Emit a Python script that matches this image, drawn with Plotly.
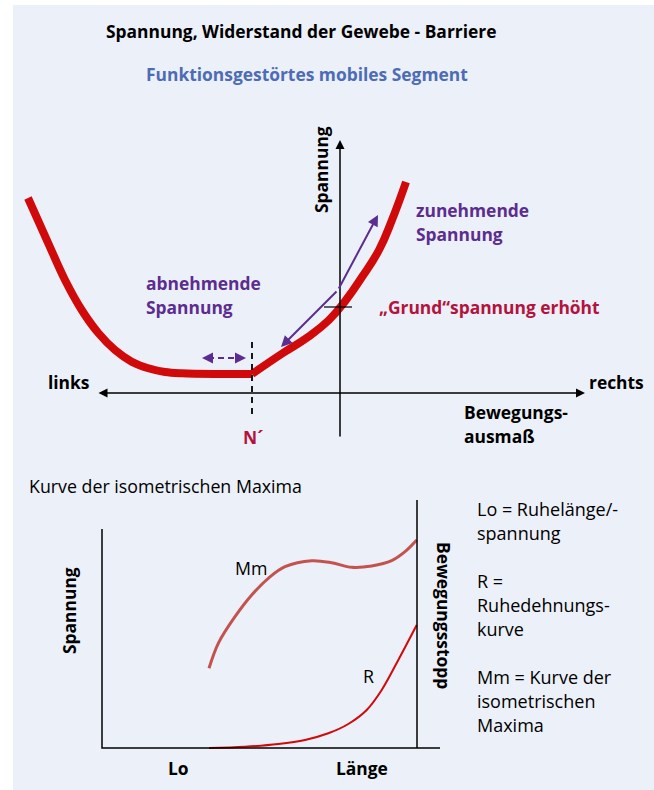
import plotly.graph_objects as go

W, H = 654, 790
BG = '#ECF0F8'
FONT = 'Open Sans'
RED = '#D00A0A'
PURPLE = '#5C2D91'
CRIMSON = '#B3133D'
BLUE = '#4D6CB5'
MMRED = '#C4534F'

# ---------- Top diagram data (units: Bewegungsausmaß, Spannung) ----------
top_left_x = [-31.2, -29.17, -27.5, -25.83, -24.17, -22.5, -20.83, -19.17, -17.5, -15.83, -12.5, -8.8]
top_left_y = [19.5, 14.97, 11.3, 8.3, 6.0, 4.3, 3.13, 2.47, 2.1, 1.97, 1.9, 1.9]
top_right_x = [-8.8, -5.7, -3.2, -1.1, 0.6, 2.2, 3.9, 5.2, 6.6]
top_right_y = [1.9, 4.0, 5.6, 7.3, 9.3, 11.6, 14.3, 17.3, 21.1]
n_prime_x = -8.8
grund_y = 8.6
purple_kink = (-0.2, 10.3)
purple_low = (-5.9, 4.6)
purple_high = (3.8, 17.8)
dash_arrow_x = [-13.8, -9.4]
dash_arrow_y = 3.5
h_axis = (-24.3, 24.5)
v_axis = (-4.5, 25.3)

# ---------- Bottom diagram data (units: Länge, Spannung) ----------
mm_x = [10.7, 11.63, 13.3, 14.97, 16.63, 18.3, 20.97, 22.97, 24.97, 26.97, 28.97, 30.3, 31.47]
mm_y = [7.97, 10.47, 13.13, 15.3, 16.97, 18.13, 18.73, 18.53, 18.07, 18.2, 18.73, 19.63, 20.8]
r_x = [10.7, 14.3, 17.63, 20.3, 22.63, 24.63, 26.47, 27.97, 29.63, 31.47]
r_y = [0.0, 0.13, 0.4, 0.8, 1.47, 2.4, 3.8, 5.8, 8.8, 12.3]
b_left_top = 21.9
b_right_x = 31.5
b_right_top = 24.8
b_axis_end = 33.8

fig = go.Figure()

# top curves
fig.add_trace(go.Scatter(x=top_left_x, y=top_left_y, mode='lines',
                         line=dict(color=RED, width=8, shape='spline', smoothing=1.0),
                         xaxis='x', yaxis='y', hoverinfo='skip'))
fig.add_trace(go.Scatter(x=top_right_x, y=top_right_y, mode='lines',
                         line=dict(color=RED, width=8, shape='spline', smoothing=1.3),
                         xaxis='x', yaxis='y', hoverinfo='skip'))
# N' dashed
fig.add_trace(go.Scatter(x=[n_prime_x, n_prime_x], y=[5.1, -2.2], mode='lines',
                         line=dict(color='black', width=1.8, dash='6px,5px'),
                         xaxis='x', yaxis='y', hoverinfo='skip'))
# Grund tick
fig.add_trace(go.Scatter(x=[-1.6, 1.2], y=[grund_y, grund_y], mode='lines',
                         line=dict(color='black', width=1.2),
                         xaxis='x', yaxis='y', hoverinfo='skip'))
# dashed purple
fig.add_trace(go.Scatter(x=[dash_arrow_x[0] + 0.6, dash_arrow_x[1] - 0.6], y=[dash_arrow_y] * 2, mode='lines',
                         line=dict(color=PURPLE, width=2, dash='6px,4px'),
                         xaxis='x', yaxis='y', hoverinfo='skip'))

# bottom curves
fig.add_trace(go.Scatter(x=mm_x, y=mm_y, mode='lines',
                         line=dict(color=MMRED, width=3, shape='spline', smoothing=1.0),
                         xaxis='x2', yaxis='y2', hoverinfo='skip'))
fig.add_trace(go.Scatter(x=r_x, y=r_y, mode='lines',
                         line=dict(color=RED, width=2, shape='spline', smoothing=1.0),
                         xaxis='x2', yaxis='y2', hoverinfo='skip'))
# bottom frame
fig.add_trace(go.Scatter(x=[0, 0, b_axis_end], y=[b_left_top, 0, 0], mode='lines',
                         line=dict(color='black', width=1.5),
                         xaxis='x2', yaxis='y2', hoverinfo='skip'))
fig.add_trace(go.Scatter(x=[b_right_x, b_right_x], y=[0, b_right_top], mode='lines',
                         line=dict(color='black', width=1.5),
                         xaxis='x2', yaxis='y2', hoverinfo='skip'))

ann = []
# axis arrows (top)
ann.append(dict(x=h_axis[1], y=0, ax=h_axis[0], ay=0, xref='x', yref='y', axref='x', ayref='y',
                text='', showarrow=True, arrowhead=2, arrowside='end+start', arrowsize=1.2,
                arrowwidth=1.5, arrowcolor='black'))
ann.append(dict(x=0, y=v_axis[1], ax=0, ay=v_axis[0], xref='x', yref='y', axref='x', ayref='y',
                text='', showarrow=True, arrowhead=2, arrowsize=1.2,
                arrowwidth=1.5, arrowcolor='black'))
# purple arrows
for end in (purple_low, purple_high):
    ann.append(dict(x=end[0], y=end[1], ax=purple_kink[0], ay=purple_kink[1],
                    xref='x', yref='y', axref='x', ayref='y', text='', showarrow=True,
                    arrowhead=2, arrowsize=1.1, arrowwidth=2, arrowcolor=PURPLE))
# dashed arrow heads
ann.append(dict(x=dash_arrow_x[0], y=dash_arrow_y, ax=dash_arrow_x[0] + 0.5, ay=dash_arrow_y,
                xref='x', yref='y', axref='x', ayref='y', text='', showarrow=True,
                arrowhead=2, arrowsize=1.1, arrowwidth=2, arrowcolor=PURPLE))
ann.append(dict(x=dash_arrow_x[1], y=dash_arrow_y, ax=dash_arrow_x[1] - 0.5, ay=dash_arrow_y,
                xref='x', yref='y', axref='x', ayref='y', text='', showarrow=True,
                arrowhead=2, arrowsize=1.1, arrowwidth=2, arrowcolor=PURPLE))


def txt(s, px, py, size, color='black', bold=False, xanchor='left', angle=0):
    ann.append(dict(text=s, x=px / W, y=1 - py / H, xref='paper', yref='paper',
                    xanchor=xanchor, yanchor='middle', showarrow=False, textangle=angle,
                    font=dict(family=FONT, size=size, color=color,
                              weight='bold' if bold else 'normal')))


B = 17.4
R = 17.8
txt('Spannung, Widerstand der Gewebe - Barriere', 301, 31, B, bold=True, xanchor='center')
txt('Funktionsgestörtes mobiles Segment', 307, 74, B, color=BLUE, bold=True, xanchor='center')
txt('Spannung', 321, 170, B, bold=True, xanchor='center', angle=-90)
txt('zunehmende', 414, 210, B, color=PURPLE, bold=True)
txt('Spannung', 414, 234, B, color=PURPLE, bold=True)
txt('abnehmende', 144, 283, B, color=PURPLE, bold=True)
txt('Spannung', 144, 307, B, color=PURPLE, bold=True)
txt('„Grund“spannung erhöht', 377, 307, B, color=CRIMSON, bold=True)
txt('links', 46, 382, B, bold=True)
txt('rechts', 587, 382, B, bold=True)
txt('Bewegungs-', 462, 412, B, bold=True)
txt('ausmaß', 462, 436, B, bold=True)
txt('N´', 253, 437, B, color=CRIMSON, bold=True, xanchor='center')

txt('Kurve der isometrischen Maxima', 27, 486, R)
txt('Spannung', 69, 611, B, bold=True, xanchor='center', angle=-90)
txt('Bewegungsstopp', 444, 615, B, bold=True, xanchor='center', angle=90)
txt('Lo', 178, 768, B, bold=True, xanchor='center')
txt('Länge', 362, 768, B, bold=True, xanchor='center')
txt('Mm', 251, 568, R, xanchor='center')
txt('R', 368, 676, R, xanchor='center')
legend_lines = [('Lo = Ruhelänge/-', 509), ('spannung', 533), ('R =', 581), ('Ruhedehnungs-', 605),
                ('kurve', 629), ('Mm = Kurve der', 677), ('isometrischen', 701), ('Maxima', 725)]
for s, py in legend_lines:
    txt(s, 475, py, 18)

top_dom = [1 - 470 / H, 1 - 100 / H]
bot_dom = [0, 1 - 470 / H]
ax_common = dict(visible=False, showgrid=False, zeroline=False, fixedrange=True)
fig.update_layout(
    width=W, height=H, margin=dict(l=0, r=0, t=0, b=0),
    paper_bgcolor='white', plot_bgcolor='rgba(0,0,0,0)', showlegend=False,
    xaxis=dict(domain=[0, 1], range=[-34.0, 31.4], anchor='y', **ax_common),
    yaxis=dict(domain=top_dom, range=[-7.7, 29.3], anchor='x', **ax_common),
    xaxis2=dict(domain=[0, 1], range=[-10.2, 55.2], anchor='y2', **ax_common),
    yaxis2=dict(domain=bot_dom, range=[-4.2, 27.8], anchor='x2', **ax_common),
    shapes=[dict(type='rect', xref='paper', yref='paper', x0=13 / W, x1=1, y0=0, y1=1 - 5 / H,
                 fillcolor=BG, line=dict(width=0), layer='below')],
    annotations=ann,
)
fig.write_html('out.html', config={'displayModeBar': False},
               post_script="document.body.style.margin='0';document.body.style.overflow='hidden';")
